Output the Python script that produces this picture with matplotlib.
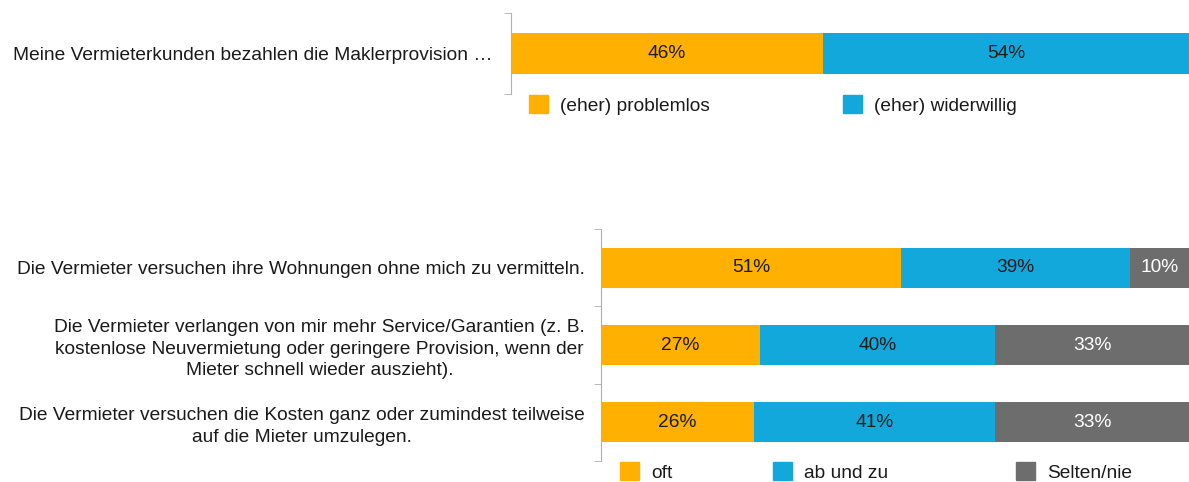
import matplotlib.pyplot as plt
from matplotlib.patches import Patch

plt.rcParams['font.family'] = ['Liberation Sans', 'DejaVu Sans']

# top chart
top_label = ["Meine Vermieterkunden bezahlen die Maklerprovision …"]
top_series = ["(eher) problemlos", "(eher) widerwillig"]
top_values = [[46], [54]]

# bottom chart
bot_labels = [
    "Die Vermieter versuchen ihre Wohnungen ohne mich zu vermitteln.",
    "Die Vermieter verlangen von mir mehr Service/Garantien (z. B.\n"
    "kostenlose Neuvermietung oder geringere Provision, wenn der\n"
    "Mieter schnell wieder auszieht).",
    "Die Vermieter versuchen die Kosten ganz oder zumindest teilweise\n"
    "auf die Mieter umzulegen.",
]
bot_series = ["oft", "ab und zu", "Selten/nie"]
oft = [51, 27, 26]
ab_und_zu = [39, 40, 41]
selten = [10, 33, 33]

colors = ["#FFB000", "#12A8DB", "#6D6D6D"]
text_colors = ["#1a1a1a", "#1a1a1a", "white"]
W, H = 1189, 482
fs = 13.8

fig = plt.figure(figsize=(W / 100, H / 100), dpi=100)


def style_axes(ax, n):
    for s in ["top", "right", "bottom"]:
        ax.spines[s].set_visible(False)
    ax.spines["left"].set_color("#b0b0b0")
    ax.set_xlim(0, 100)
    ax.set_ylim(n - 0.5, -0.5)
    ax.set_xticks([])
    ax.set_yticks(range(n))
    ax.set_yticks([i - 0.5 for i in range(n + 1)], minor=True)
    ax.tick_params(axis="y", which="major", length=0, pad=11.5, labelsize=fs,
                   labelcolor="#1a1a1a")
    ax.tick_params(axis="y", which="minor", length=5, color="#b0b0b0")


def stacked(ax, series, height):
    left = [0] * len(series[0])
    for k, vals in enumerate(series):
        bars = ax.barh(range(len(vals)), vals, left=left, height=height,
                       color=colors[k], edgecolor="none")
        ax.bar_label(bars, labels=[f"{v}%" for v in vals], label_type="center",
                     color=text_colors[k], fontsize=fs)
        left = [a + b for a, b in zip(left, vals)]


# top axes
ax1 = fig.add_axes([511 / W, 1 - 94 / H, 1 - 511 / W, 81 / H])
stacked(ax1, top_values, 0.5)
style_axes(ax1, 1)
ax1.set_yticklabels(top_label)
ax1.tick_params(axis="y", which="major", pad=13)

# bottom axes
ax2 = fig.add_axes([601 / W, 1 - 461 / H, 1 - 601 / W, 232 / H])
stacked(ax2, [oft, ab_und_zu, selten], 0.52)
style_axes(ax2, 3)
ax2.set_yticklabels(bot_labels, multialignment="center", linespacing=1.33)


def legend_entry(label, color, x, y):
    leg = fig.legend(handles=[Patch(color=color, label=label)],
                     loc="center left", bbox_to_anchor=(x / W, 1 - y / H),
                     frameon=False, fontsize=fs, borderpad=0, borderaxespad=0,
                     handlelength=1.0, handleheight=1.0, handletextpad=0.62,
                     labelcolor="#1a1a1a")
    return leg


legend_entry(top_series[0], colors[0], 529, 105)
legend_entry(top_series[1], colors[1], 843, 105)
legend_entry(bot_series[0], colors[0], 620, 472)
legend_entry(bot_series[1], colors[1], 773, 472)
legend_entry(bot_series[2], colors[2], 1016, 472)

fig.savefig("out.png", dpi=100)
